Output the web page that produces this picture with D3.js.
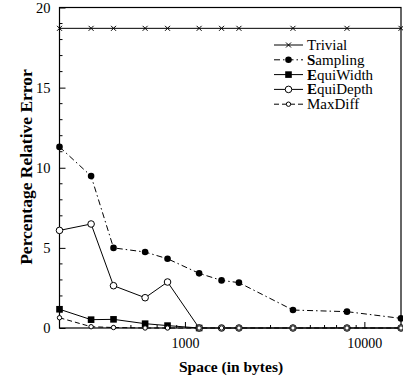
<!doctype html>
<html>
<head>
  <script src="https://d3js.org/d3.v7.min.js"></script>
  <style>
    body { margin: 0; background: #fff; }
    text { font-family: "Liberation Serif", "Times New Roman", serif; }
  </style>
</head>
<body>
  <script>
    // data
    var space = [200, 300, 400, 600, 800, 1200, 1600, 2000, 4000, 8000, 16000];
    var trivial = [18.7, 18.7, 18.7, 18.7, 18.7, 18.7, 18.7, 18.7, 18.7, 18.7, 18.7];
    var sampling = [11.3, 9.48, 5.0, 4.74, 4.32, 3.41, 2.97, 2.83, 1.12, 1.02, 0.6];
    var equiWidth = [1.17, 0.52, 0.54, 0.27, 0.15, 0];
    var equiDepth = [6.09, 6.49, 2.64, 1.89, 2.87, 0, 0, 0, 0, 0, 0];
    var maxDiff = [0.64, 0.08, 0.03, 0, 0, 0, 0, 0, 0, 0, 0];
    var yTicks = [0, 5, 10, 15, 20];
    var xTicks = [1000, 10000];

    var width = 403, height = 379;
    // plot box (window.top is reserved, so use other names)
    var plotLeft = 59.5, plotRight = 401, plotTop = 7.5, plotBottom = 328;

    var x = d3.scaleLog().domain([200, 16000]).range([plotLeft, plotRight]);
    var y = d3.scaleLinear().domain([0, 20]).range([plotBottom, plotTop]);

    var svg = d3.select("body").append("svg")
                .attr("width", width)
                .attr("height", height);

    // frame
    svg.append("rect")
       .attr("x", plotLeft).attr("y", plotTop)
       .attr("width", plotRight - plotLeft).attr("height", plotBottom - plotTop)
       .attr("fill", "none").attr("stroke", "#000").attr("stroke-width", 1.2);

    // y axis, ticks inside
    var yAxis = d3.axisLeft(y).tickValues(yTicks).tickSize(-6).tickPadding(9);
    var gy = svg.append("g").attr("transform", "translate(" + plotLeft + ",0)").call(yAxis);
    gy.select(".domain").remove();
    gy.selectAll("text").attr("font-size", 14.5).attr("font-family", "Liberation Serif");
    // minor y ticks
    svg.append("g").selectAll("line")
       .data(d3.range(0, 21).filter(function(d) { return d % 5 != 0; }))
       .enter().append("line")
       .attr("x1", plotLeft).attr("x2", plotLeft + 3)
       .attr("y1", function(d) { return y(d); })
       .attr("y2", function(d) { return y(d); })
       .attr("stroke", "#000");

    // x axis
    var xAxis = d3.axisBottom(x).tickValues(xTicks).tickFormat(d3.format("d")).tickSize(-6).tickPadding(10);
    var gx = svg.append("g").attr("transform", "translate(0," + plotBottom + ")").call(xAxis);
    gx.select(".domain").remove();
    gx.selectAll("text").attr("font-size", 14).attr("font-family", "Liberation Serif");
    var minor = [];
    [100, 1000, 10000].forEach(function(b) {
      for (var k = 2; k < 10; k++) {
        var v = b * k;
        if (v > 200 && v < 16000) minor.push(v);
      }
    });
    svg.append("g").selectAll("line")
       .data(minor)
       .enter().append("line")
       .attr("x1", function(d) { return x(d); })
       .attr("x2", function(d) { return x(d); })
       .attr("y1", plotBottom).attr("y2", plotBottom - 3)
       .attr("stroke", "#000");

    // titles
    svg.append("text")
       .attr("x", 231).attr("y", 372)
       .attr("text-anchor", "middle")
       .attr("font-size", 15.5).attr("font-weight", "bold")
       .text("Space (in bytes)");
    svg.append("text")
       .attr("transform", "translate(32,167) rotate(-90)")
       .attr("text-anchor", "middle")
       .attr("font-size", 17.5).attr("font-weight", "bold")
       .text("Percentage Relative Error");

    var series = [
      { name: "Trivial", bold: "", values: trivial, dash: null, marker: "cross" },
      { name: "ampling", bold: "S", values: sampling, dash: "6,3,1.5,3", marker: "dot" },
      { name: "quiWidth", bold: "E", values: equiWidth, dash: null, marker: "square" },
      { name: "quiDepth", bold: "E", values: equiDepth, dash: null, marker: "circle" },
      { name: "MaxDiff", bold: "", values: maxDiff, dash: "5,3", marker: "small" }
    ];

    var line = d3.line()
                 .x(function(d) { return x(d[0]); })
                 .y(function(d) { return y(d[1]); });

    function drawMarker(g, type, cx, cy) {
      if (type == "cross") {
        g.append("path")
         .attr("d", "M" + (cx - 2.5) + "," + (cy - 2.5) + "L" + (cx + 2.5) + "," + (cy + 2.5) +
                    "M" + (cx - 2.5) + "," + (cy + 2.5) + "L" + (cx + 2.5) + "," + (cy - 2.5))
         .attr("stroke", "#000").attr("stroke-width", 1);
      } else if (type == "dot") {
        g.append("circle").attr("cx", cx).attr("cy", cy).attr("r", 3.3).attr("fill", "#000");
      } else if (type == "square") {
        g.append("rect").attr("x", cx - 3.3).attr("y", cy - 3.3)
         .attr("width", 6.6).attr("height", 6.6).attr("fill", "#000");
      } else if (type == "circle") {
        g.append("circle").attr("cx", cx).attr("cy", cy).attr("r", 3.3)
         .attr("fill", "#fff").attr("stroke", "#000").attr("stroke-width", 1);
      } else {
        g.append("circle").attr("cx", cx).attr("cy", cy).attr("r", 2.2)
         .attr("fill", "#fff").attr("stroke", "#000").attr("stroke-width", 1);
      }
    }

    var plot = svg.append("g");
    series.forEach(function(s) {
      var pts = s.values.map(function(v, i) { return [space[i], v]; });
      plot.append("path")
          .attr("d", line(pts))
          .attr("fill", "none")
          .attr("stroke", "#000")
          .attr("stroke-width", 1)
          .attr("stroke-dasharray", s.dash);
      pts.forEach(function(p) { drawMarker(plot, s.marker, x(p[0]), y(p[1])); });
    });

    // legend
    var legend = svg.append("g");
    series.forEach(function(s, i) {
      var ly = 45 + i * 14.8;
      legend.append("line")
            .attr("x1", 274).attr("x2", 303)
            .attr("y1", ly).attr("y2", ly)
            .attr("stroke", "#000").attr("stroke-dasharray", s.dash);
      drawMarker(legend, s.marker, 288.5, ly);
      var t = legend.append("text")
                    .attr("x", 307).attr("y", ly + 5)
                    .attr("font-size", 15);
      if (s.bold) t.append("tspan").attr("font-weight", "bold").text(s.bold);
      t.append("tspan").text(s.name);
    });
  </script>
</body>
</html>
